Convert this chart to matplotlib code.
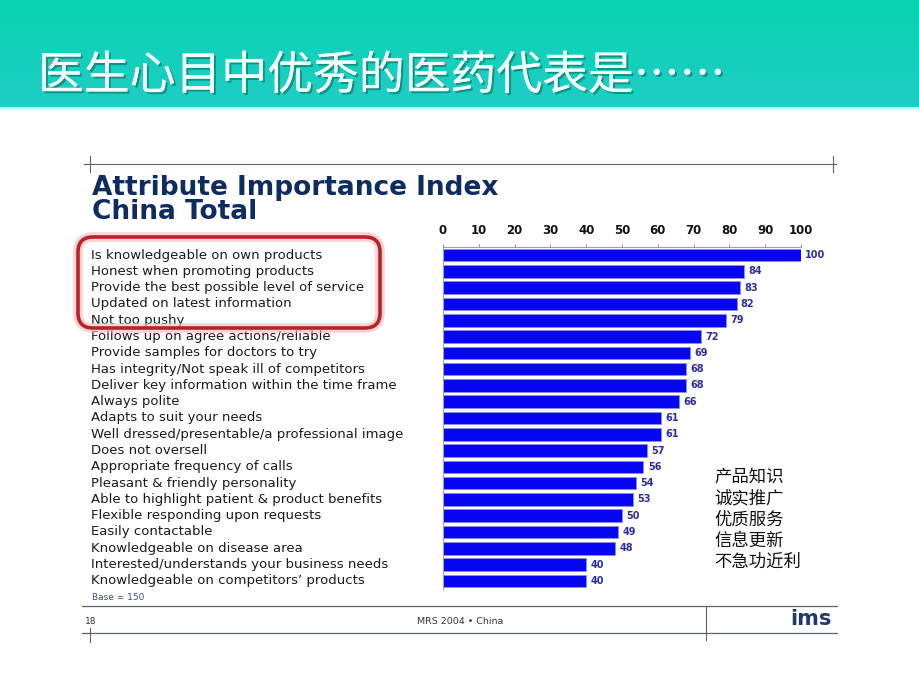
import numpy as np
import matplotlib
matplotlib.use("Agg")
import matplotlib.pyplot as plt
from matplotlib.patches import FancyBboxPatch
from matplotlib.transforms import blended_transform_factory, IdentityTransform
import matplotlib.patheffects as pe

# ---- data ----
attributes = [
    "Is knowledgeable on own products",
    "Honest when promoting products",
    "Provide the best possible level of service",
    "Updated on latest information",
    "Not too pushy",
    "Follows up on agree actions/reliable",
    "Provide samples for doctors to try",
    "Has integrity/Not speak ill of competitors",
    "Deliver key information within the time frame",
    "Always polite",
    "Adapts to suit your needs",
    "Well dressed/presentable/a professional image",
    "Does not oversell",
    "Appropriate frequency of calls",
    "Pleasant & friendly personality",
    "Able to highlight patient & product benefits",
    "Flexible responding upon requests",
    "Easily contactable",
    "Knowledgeable on disease area",
    "Interested/understands your business needs",
    "Knowledgeable on competitors\u2019 products",
]
index_values = [100, 84, 83, 82, 79, 72, 69, 68, 68, 66, 61, 61, 57, 56, 54, 53, 50, 49, 48, 40, 40]
x_ticks = [0, 10, 20, 30, 40, 50, 60, 70, 80, 90, 100]
slide_title = "医生心目中优秀的医药代表是……"
chart_title = "Attribute Importance Index\nChina Total"
notes_cn = ["产品知识", "诚实推广", "优质服务", "信息更新", "不急功近利"]
base_note = "Base = 150"
footer_page = "18"
footer_source = "MRS 2004 \u2022 China"
footer_logo = "ims"

W, H = 920, 690
fig = plt.figure(figsize=(W / 100, H / 100), dpi=100)
fig.patch.set_facecolor("white")

def fx(px):
    return px / W

def fy(py):
    return 1 - py / H

# ---- header band ----
hdr_h = 107
hax = fig.add_axes([0, fy(hdr_h), 1, hdr_h / H])
top = np.array([8, 212, 176]) / 255
bot = np.array([30, 205, 198]) / 255
t = np.linspace(0, 1, 100)[:, None]
grad = (top[None, :] * (1 - t) + bot[None, :] * t)[:, None, :]
grad = np.repeat(grad, 2, axis=1)
hax.imshow(grad, aspect="auto", extent=[0, 1, 0, 1])
hax.axis("off")
fig.add_artist(plt.Line2D([0, 1], [fy(hdr_h + 1)] * 2, transform=fig.transFigure,
                          color="#C8F4F4", lw=1.5))
fig.text(fx(38), fy(76), slide_title, fontsize=33, color="#F2FFFF",
         family=["Noto Sans CJK SC", "DejaVu Sans"], va="center", ha="left",
         path_effects=[pe.withSimplePatchShadow(offset=(1.5, -1.5), shadow_rgbFace="#0A6B5C", alpha=0.6),
                       pe.Normal()])

# ---- frame lines of embedded chart ----
line_c = "#5A6070"
def hline(y, x0, x1, lw=1.0):
    fig.add_artist(plt.Line2D([fx(x0), fx(x1)], [fy(y), fy(y)], transform=fig.transFigure,
                              color=line_c, lw=lw))
def vline(x, y0, y1, lw=1.0):
    fig.add_artist(plt.Line2D([fx(x), fx(x)], [fy(y0), fy(y1)], transform=fig.transFigure,
                              color=line_c, lw=lw))

hline(164, 84, 836, 0.8)
vline(90, 156, 172, 0.8)
vline(833, 156, 172, 0.8)
hline(606, 82, 837, 0.9)
hline(633, 82, 837, 0.9)
vline(706, 606, 640, 0.8)
vline(90, 628, 642, 0.8)

# ---- chart title ----
fig.text(fx(92), fy(200), chart_title, fontsize=19, fontweight="heavy", color="#0E2C62",
         family="DejaVu Sans", va="center", ha="left", linespacing=0.9)

# ---- bar axes ----
ax_top, ax_bot = 247, 589
ax = fig.add_axes([fx(443), fy(ax_bot), fx(801) - fx(443), (ax_bot - ax_top) / H])
n = len(attributes)
ypos = np.arange(n)
ax.barh(ypos, index_values, height=0.78, color="#0606F2", edgecolor="#8C8CF0", linewidth=0.6)
ax.set_xlim(0, 100)
ax.set_ylim(n - 0.5, -0.5)
ax.xaxis.tick_top()
ax.set_xticks(x_ticks)
ax.set_xticklabels([str(v) for v in x_ticks], fontsize=8.5, fontweight="bold", color="#111111")
ax.tick_params(axis="x", direction="out", length=2.5, width=0.7, color="#8888BB", pad=5)
ax.set_yticks([])
for s in ["right", "bottom"]:
    ax.spines[s].set_visible(False)
ax.spines["top"].set_color("#9A9AD0")
ax.spines["left"].set_color("#9A9AD0")
ax.spines["top"].set_linewidth(0.8)
ax.spines["left"].set_linewidth(0.8)
ax.patch.set_alpha(0)

for i, v in enumerate(index_values):
    ax.text(v + 1.2, i, str(v), va="center", ha="left", fontsize=7, fontweight="bold",
            color="#2E2E9A")

# ---- labels ----
tr = blended_transform_factory(fig.transFigure, ax.transData)
for i, lab in enumerate(attributes):
    ax.text(fx(91), i, lab, transform=tr, va="center", ha="left", fontsize=9.5,
            color="#1A1A1A", family="DejaVu Sans", clip_on=False)

fig.text(fx(92), fy(597), base_note, fontsize=6.5, color="#3A4A9A", va="center", ha="left")

# ---- red highlight box ----
x0, y0, x1, y1 = 78, 237, 380, 328
for lw, col, a in [(7, "#F4B8B8", 0.6), (2.6, "#B8232A", 1.0)]:
    box = FancyBboxPatch((x0, H - y1), x1 - x0, y1 - y0,
                         boxstyle="round,pad=0,rounding_size=15",
                         transform=IdentityTransform(), fill=False, edgecolor=col,
                         linewidth=lw, alpha=a)
    fig.add_artist(box)

# ---- Chinese notes ----
for k, s in enumerate(notes_cn):
    fig.text(fx(714), fy(477 + k * 21.3), s, fontsize=12.5, color="#111111",
             family=["Noto Sans CJK SC", "DejaVu Sans"], va="center", ha="left")

# ---- footer ----
fig.text(fx(85), fy(621), footer_page, fontsize=6.5, color="#333344", va="center", ha="left")
fig.text(fx(460), fy(621), footer_source, fontsize=6.8, color="#333344", va="center", ha="center")
fig.text(fx(832), fy(619), footer_logo, fontsize=15, fontweight="bold", color="#1E3A6A",
         va="center", ha="right", family="DejaVu Sans")

fig.savefig("out.png", dpi=100)
